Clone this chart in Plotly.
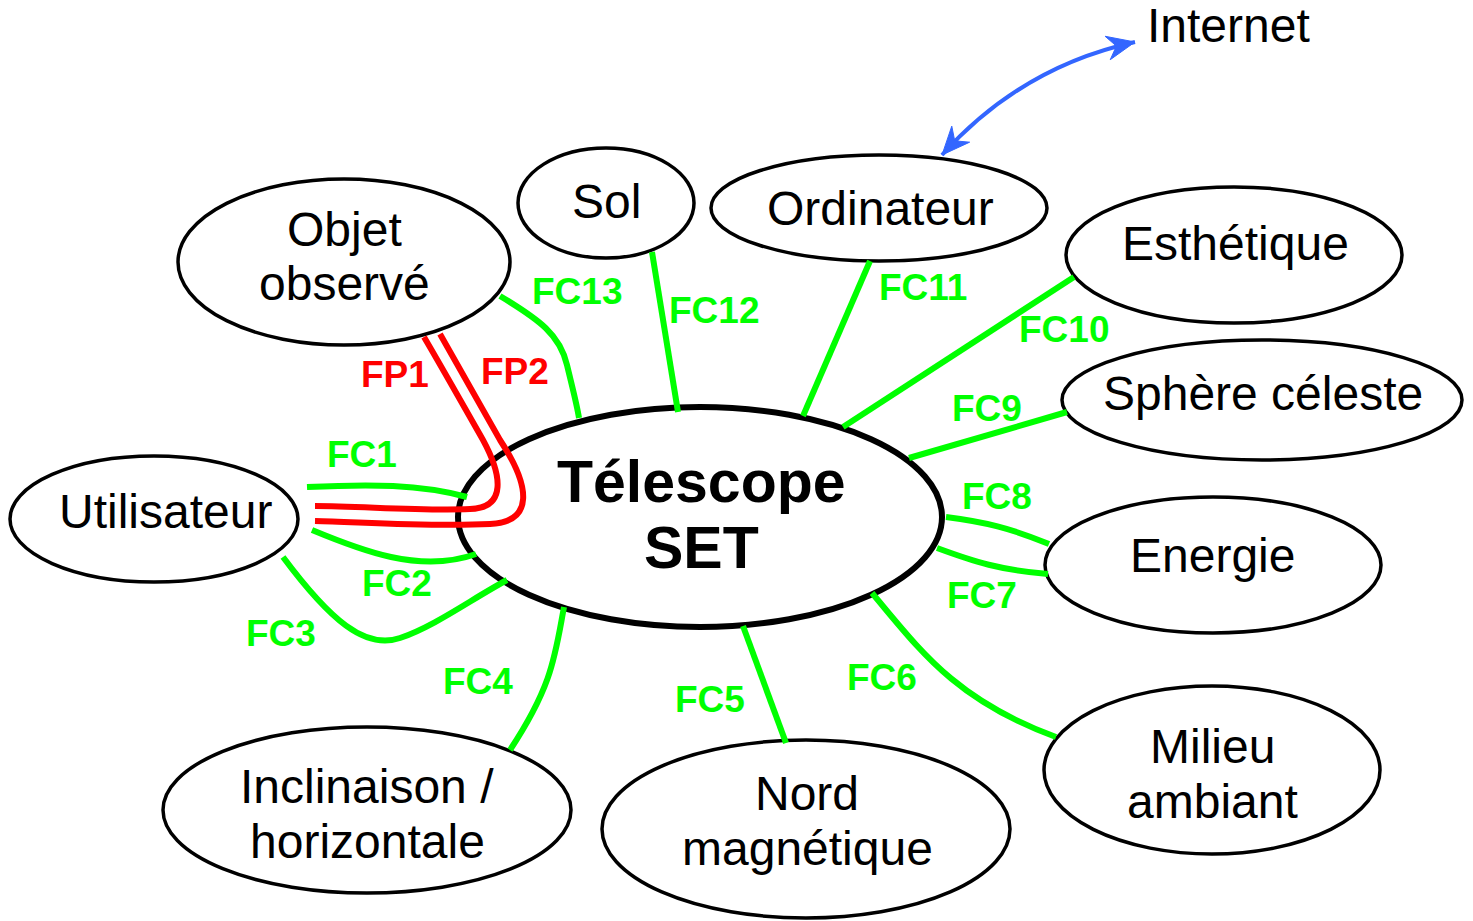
import numpy as np
import plotly.graph_objects as go

W, H = 1473, 921

# ---------------- nodes (ellipses) ----------------
node_names = ["Télescope SET", "Utilisateur", "Objet observé", "Sol", "Ordinateur",
              "Esthétique", "Sphère céleste", "Energie", "Milieu ambiant",
              "Nord magnétique", "Inclinaison / horizontale"]
node_cx = [700, 154, 344, 606, 879, 1234, 1262, 1213, 1212, 806, 367]
node_cy = [517, 519, 262, 203, 208, 255, 400, 565, 770, 829, 810]
node_rx = [242, 144, 166, 88, 168, 168, 200, 168, 168, 204, 204]
node_ry = [110, 63, 83, 55, 53, 68, 60, 68, 84, 89, 83]

node_text_lines = [["Télescope", "SET"], ["Utilisateur"], ["Objet", "observé"], ["Sol"],
                   ["Ordinateur"], ["Esthétique"], ["Sphère céleste"], ["Energie"],
                   ["Milieu", "ambiant"], ["Nord", "magnétique"],
                   ["Inclinaison /", "horizontale"]]
node_text_x = [701, 165, 344, 606, 880, 1235, 1263, 1212, 1212, 807, 367]
node_text_y = [[482, 548], [511], [229, 283], [201], [208], [243], [393], [555],
               [746, 801], [793, 848], [786, 841]]

# ---------------- function links ----------------
link_names = ["FC1", "FC2", "FC3", "FC4", "FC5", "FC6", "FC7", "FC8", "FC9",
              "FC10", "FC11", "FC12", "FC13", "FP1", "FP2"]
link_kind = ["FC"] * 13 + ["FP"] * 2
link_paths = [
    [(307, 487), (370, 484), (420, 484), (467, 497)],                      # FC1
    [(312, 530), (360, 550), (420, 574), (476, 554)],                      # FC2
    [(283, 557), (330, 620), (365, 650), (400, 638),
     (435, 626), (470, 600), (507, 580)],                                  # FC3
    [(564, 607), (555, 655), (553, 685), (510, 750)],                      # FC4
    [(743, 626), (786, 743)],                                              # FC5
    [(872, 593), (920, 650), (955, 700), (1056, 737)],                     # FC6
    [(937, 548), (975, 562), (1000, 570), (1048, 574)],                    # FC7
    [(946, 517), (985, 522), (1010, 528), (1049, 544)],                    # FC8
    [(909, 458), (1067, 412)],                                             # FC9
    [(843, 427), (1074, 277)],                                             # FC10
    [(803, 416), (870, 261)],                                              # FC11
    [(678, 412), (652, 252)],                                              # FC12
    [(500, 296), (540, 320), (560, 335), (567, 365),
     (573, 390), (577, 405), (579, 418)],                                  # FC13
    [(424, 337), (444, 371), (463, 405), (483, 440), (502, 475), (507, 508),
     (470, 509), (420, 511), (360, 506), (315, 506)],                      # FP1
    [(440, 334), (460, 369), (480, 404), (500, 440), (531, 487), (534, 522),
     (490, 524), (430, 527), (360, 522), (315, 521)],                      # FP2
]
link_label_x = [362, 397, 281, 478, 710, 882, 982, 997, 987, 1064, 923, 714, 577, 395, 515]
link_label_y = [454, 583, 633, 681, 699, 677, 595, 496, 408, 329, 287, 310, 291, 374, 371]

# ---------------- Internet arrow ----------------
internet_label = "Internet"
internet_xy = (1228, 25)
arrow_pts = [(942, 155), (1021, 67), (1135, 42)]  # quadratic curve

GREEN = "#00ff00"
RED = "#ff0000"
BLUE = "#3366ff"
FONT = "Liberation Sans, Arial, Helvetica, sans-serif"


def path_string(pts):
    s = "M %g,%g" % pts[0]
    if len(pts) == 2:
        return s + " L %g,%g" % pts[1]
    rest = pts[1:]
    for i in range(0, len(rest), 3):
        a, b, c = rest[i:i + 3]
        s += " C %g,%g %g,%g %g,%g" % (a + b + c)
    return s


def arrow_head(tip, frm, L=28, Wd=12):
    t = np.array(tip, float)
    d = t - np.array(frm, float)
    d /= np.linalg.norm(d)
    n = np.array([-d[1], d[0]])
    p1 = t - L * d + Wd * n
    p2 = t - 0.68 * L * d
    p3 = t - L * d - Wd * n
    return "M %g,%g L %g,%g L %g,%g L %g,%g Z" % (*t, *p1, *p2, *p3)


fig = go.Figure()
fig.add_trace(go.Scatter(x=[0, W], y=[0, H], mode="markers",
                         marker=dict(opacity=0), hoverinfo="skip"))

shapes = []
for i in range(len(node_names)):
    shapes.append(dict(type="circle", xref="x", yref="y",
                       x0=node_cx[i] - node_rx[i], x1=node_cx[i] + node_rx[i],
                       y0=node_cy[i] - node_ry[i], y1=node_cy[i] + node_ry[i],
                       line=dict(color="black", width=6 if i == 0 else 3.5),
                       fillcolor="rgba(0,0,0,0)"))

for i, pts in enumerate(link_paths):
    col = GREEN if link_kind[i] == "FC" else RED
    shapes.append(dict(type="path", xref="x", yref="y", path=path_string(pts),
                       line=dict(color=col, width=6), fillcolor="rgba(0,0,0,0)"))

# arrow curve and heads
p0, p1, p2 = arrow_pts
shapes.append(dict(type="path", xref="x", yref="y",
                   path="M %g,%g Q %g,%g %g,%g" % (p0 + p1 + p2),
                   line=dict(color=BLUE, width=4), fillcolor="rgba(0,0,0,0)"))
for tip, frm in [(p0, p1), (p2, p1)]:
    shapes.append(dict(type="path", xref="x", yref="y", path=arrow_head(tip, frm),
                       line=dict(color=BLUE, width=1), fillcolor=BLUE))

annotations = []
for i, lines in enumerate(node_text_lines):
    bold = i == 0
    for j, txt in enumerate(lines):
        annotations.append(dict(x=node_text_x[i], y=node_text_y[i][j], xref="x", yref="y",
                                text="<b>%s</b>" % txt if bold else txt,
                                showarrow=False, xanchor="center", yanchor="middle",
                                font=dict(family=FONT, size=59 if bold else 48, color="black")))
for i, name in enumerate(link_names):
    col = GREEN if link_kind[i] == "FC" else RED
    annotations.append(dict(x=link_label_x[i], y=link_label_y[i], xref="x", yref="y",
                            text="<b>%s</b>" % name, showarrow=False,
                            xanchor="center", yanchor="middle",
                            font=dict(family=FONT, size=37, color=col)))
annotations.append(dict(x=internet_xy[0], y=internet_xy[1], xref="x", yref="y",
                        text=internet_label, showarrow=False,
                        xanchor="center", yanchor="middle",
                        font=dict(family=FONT, size=48, color="black")))

fig.update_layout(width=W, height=H, margin=dict(l=0, r=0, t=0, b=0),
                  paper_bgcolor="white", plot_bgcolor="white", showlegend=False,
                  xaxis=dict(range=[0, W], visible=False, fixedrange=True),
                  yaxis=dict(range=[H, 0], visible=False, fixedrange=True),
                  shapes=shapes, annotations=annotations)

fig.write_html("out.html", config={"displayModeBar": False},
               post_script="document.body.style.margin='0';document.body.style.overflow='hidden';")
